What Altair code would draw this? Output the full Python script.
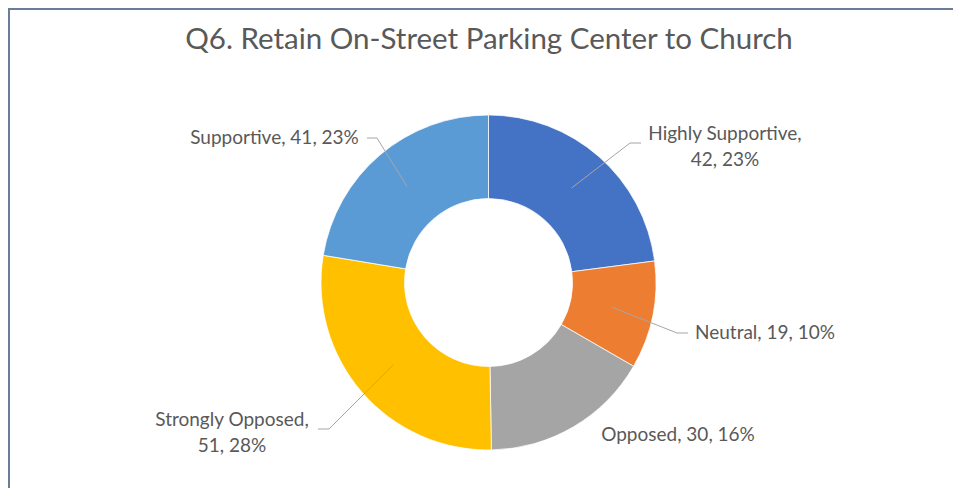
import math
import altair as alt
import pandas as pd

# ---- data ----
categories = ["Highly Supportive", "Neutral", "Opposed", "Strongly Opposed", "Supportive"]
counts = [42, 19, 30, 51, 41]
percent_labels = ["23%", "10%", "16%", "28%", "23%"]
colors = ["#4472C4", "#ED7D31", "#A5A5A5", "#FFC000", "#5B9BD5"]
title_text = "Q6. Retain On-Street Parking Center to Church"

# ---- layout ----
W, H = 945, 480
CX, CY = 480.5, 274.5
R_OUT, R_IN = 167.5, 84
label_x = [717, 757, 670, 224, 266.5]
label_y = [139, 325, 427, 424.5, 130]
label_wrap = [True, False, False, True, False]
LINE_H = 26
# leader elbow / end points (None = no leader)
leader_elbow = [(622, 135), (669, 325), None, (321, 421), (369, 130)]
leader_end = [(633, 135), (680, 325), None, (310, 421), (359, 130)]

TEXT_COLOR = "#595959"
FONT = "Lato"

total = sum(counts)
arc_df = pd.DataFrame({"category": categories, "value": counts, "idx": range(len(categories))})

# text rows
text_rows = []
for i, c in enumerate(categories):
    if label_wrap[i]:
        lines = [f"{c},", f"{counts[i]}, {percent_labels[i]}"]
    else:
        lines = [f"{c}, {counts[i]}, {percent_labels[i]}"]
    n = len(lines)
    for j, ln in enumerate(lines):
        text_rows.append({"txt": ln, "px": label_x[i], "py": label_y[i] + (j - (n - 1) / 2) * LINE_H})
text_df = pd.DataFrame(text_rows)

# leader lines: start at slice mid-angle, mid-radius
line_rows = []
cum = 0
for i, c in enumerate(categories):
    start = cum
    cum += counts[i]
    if leader_elbow[i] is None:
        continue
    mid = (start + cum) / 2 / total * 2 * math.pi
    r = (R_OUT + R_IN) / 2
    sx, sy = CX + r * math.sin(mid), CY - r * math.cos(mid)
    pts = [(sx, sy), leader_elbow[i], leader_end[i]]
    for k, (x, y) in enumerate(pts):
        line_rows.append({"category": c, "pt": k, "px": x, "py": y})
line_df = pd.DataFrame(line_rows)

dummy = alt.Data(values=[{}])

arcs = alt.Chart(arc_df).mark_arc(
    innerRadius=R_IN, outerRadius=R_OUT, x=CX, y=CY, stroke="white", strokeWidth=0.75
).encode(
    theta=alt.Theta("value:Q", stack=True),
    color=alt.Color("category:N", scale=alt.Scale(domain=categories, range=colors), legend=None),
    order=alt.Order("idx:Q"),
)

leaders = alt.Chart(line_df).mark_line(color="#A6A6A6", strokeWidth=1).encode(
    x=alt.X("px:Q", scale=None, axis=None),
    y=alt.Y("py:Q", scale=None, axis=None),
    detail="category:N",
    order="pt:Q",
)

labels = alt.Chart(text_df).mark_text(
    font=FONT, fontSize=19, color=TEXT_COLOR, align="center", baseline="middle"
).encode(
    x=alt.X("px:Q", scale=None, axis=None),
    y=alt.Y("py:Q", scale=None, axis=None),
    text="txt:N",
)

title = alt.Chart(dummy).mark_text(
    font=FONT, fontSize=29.5, color=TEXT_COLOR, align="center", baseline="middle", text=title_text
).encode(x=alt.value(481), y=alt.value(32))

border_top = alt.Chart(dummy).mark_rule(color="#6B7C99", strokeWidth=2).encode(
    x=alt.value(0), x2=alt.value(W), y=alt.value(1)
)
border_left = alt.Chart(dummy).mark_rule(color="#6B7C99", strokeWidth=2).encode(
    x=alt.value(1), y=alt.value(0), y2=alt.value(H)
)

chart = alt.layer(arcs, leaders, labels, title, border_top, border_left).properties(
    width=W, height=H, padding=0, autosize=alt.AutoSizeParams(type="none"), background="white"
).configure_view(stroke=None)

chart.save("out.html", embed_options={"renderer": "svg", "actions": False})
